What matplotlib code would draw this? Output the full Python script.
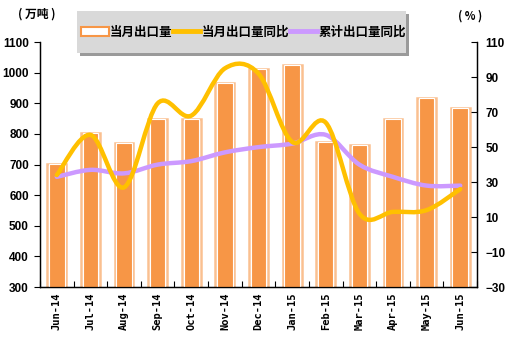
import numpy as np
import matplotlib.pyplot as plt
from matplotlib.path import Path
from matplotlib.patches import PathPatch, Patch, Rectangle
from matplotlib.lines import Line2D

plt.rcParams['font.family'] = ['Noto Sans CJK SC', 'DejaVu Sans']

# 数据
meses = ['Jun-14', 'Jul-14', 'Aug-14', 'Sep-14', 'Oct-14', 'Nov-14', 'Dec-14',
         'Jan-15', 'Feb-15', 'Mar-15', 'Apr-15', 'May-15', 'Jun-15']
export_vol = [703, 803, 770, 848, 850, 968, 1013, 1025, 775, 765, 848, 917, 885]
yoy_month = [34, 57, 27, 75, 68, 95, 92, 53, 64, 12, 13, 14, 26]
yoy_cum = [33, 37, 35, 40, 42, 47, 50, 52, 57, 40, 33, 28, 28]


def curva_suave(x, y):
    # Catmull-Rom -> Bezier
    x = np.asarray(x, float)
    y = np.asarray(y, float)
    pts = np.column_stack([x, y])
    verts = [pts[0]]
    codes = [Path.MOVETO]
    n = len(pts)
    for i in range(n - 1):
        p0 = pts[max(i - 1, 0)]
        p1 = pts[i]
        p2 = pts[i + 1]
        p3 = pts[min(i + 2, n - 1)]
        c1 = p1 + (p2 - p0) / 6.0
        c2 = p2 - (p3 - p1) / 6.0
        verts += [c1, c2, p2]
        codes += [Path.CURVE4] * 3
    return Path(verts, codes)


W, H = 516, 354
fig = plt.figure(figsize=(W / 100, H / 100), dpi=100)
ax = fig.add_axes([0.0775, 0.189, 0.847, 0.692])
ax2 = ax.twinx()
ax.set_zorder(ax2.get_zorder() - 1)
ax2.patch.set_visible(False)

x = np.arange(len(meses))
ax.bar(x, export_vol, width=0.56, color='white', edgecolor='#FAC090', linewidth=1.8, zorder=2)
ax.bar(x, export_vol, width=0.46, color='#F79646', edgecolor='white', linewidth=0.8, zorder=3)

ax.set_xlim(-0.5, len(meses) - 0.5)
ax.set_ylim(300, 1100)
ax.set_yticks(np.arange(300, 1101, 100))
ax.set_xticks(x)
ax.set_xticklabels(meses, rotation=90, family='DejaVu Sans Mono', fontweight='bold', fontsize=7.5)
ax.set_xticks(np.arange(-0.5, len(meses), 1), minor=True)
ax.tick_params(axis='x', which='major', length=0, pad=4)
ax.tick_params(axis='x', which='minor', direction='in', length=4, width=0.8)
ax.tick_params(axis='y', direction='out', length=4, width=0.8, pad=4)
for lab in ax.get_yticklabels():
    lab.set_family('Liberation Sans')
    lab.set_fontweight('bold')
    lab.set_fontsize(8.5)

ax2.set_ylim(-30, 110)
ax2.set_yticks(np.arange(-30, 111, 20))
ax2.tick_params(axis='y', direction='in', length=4, width=0.8, pad=6)
for lab in ax2.get_yticklabels():
    lab.set_family('Liberation Sans')
    lab.set_fontweight('bold')
    lab.set_fontsize(8.5)

for a in (ax, ax2):
    a.spines['top'].set_visible(False)
    for s in ('left', 'right', 'bottom'):
        a.spines[s].set_linewidth(0.9)

ax2.add_patch(PathPatch(curva_suave(x, yoy_month), facecolor='none',
                        edgecolor='#FFC000', linewidth=3.2, capstyle='round', zorder=5))
ax2.add_patch(PathPatch(curva_suave(x, yoy_cum), facecolor='none',
                        edgecolor='#CC99FF', linewidth=3.2, capstyle='round', zorder=4))

fig.text(18 / W, 1 - 14 / H, '( 万吨 )', fontsize=8.5, fontweight='bold', ha='left', va='center')
fig.text(470 / W, 1 - 16 / H, '( % )', fontsize=8, fontweight='bold', ha='center', va='center')

# fondo de la leyenda con sombra
x0, x1, y0, y1 = 77, 406, 11, 53
fig.patches.append(Rectangle((x0 / W + 3 / W, 1 - y1 / H - 3 / H), (x1 - x0) / W, (y1 - y0) / H,
                             transform=fig.transFigure, facecolor='#9A9A9A', edgecolor='none', zorder=8))
fig.patches.append(Rectangle((x0 / W, 1 - y1 / H), (x1 - x0) / W, (y1 - y0) / H,
                             transform=fig.transFigure, facecolor='#D9D9D9', edgecolor='none', zorder=9))

handles = [Patch(facecolor='white', edgecolor='#F79646', linewidth=1.5),
           Line2D([], [], color='#FFC000', linewidth=3.5),
           Line2D([], [], color='#CC99FF', linewidth=3.5)]
labels = ['当月出口量', '当月出口量同比', '累计出口量同比']
leg = fig.legend(handles, labels, loc='center', bbox_to_anchor=((x0 + x1) / 2 / W + 2 / W, 1 - 32 / H),
                 ncol=3, frameon=False, prop={'weight': 'bold', 'size': 9},
                 handlelength=2.2, handletextpad=0.1, columnspacing=0.05, borderpad=0.1)
leg.set_zorder(10)

fig.savefig('out.png', dpi=100)
